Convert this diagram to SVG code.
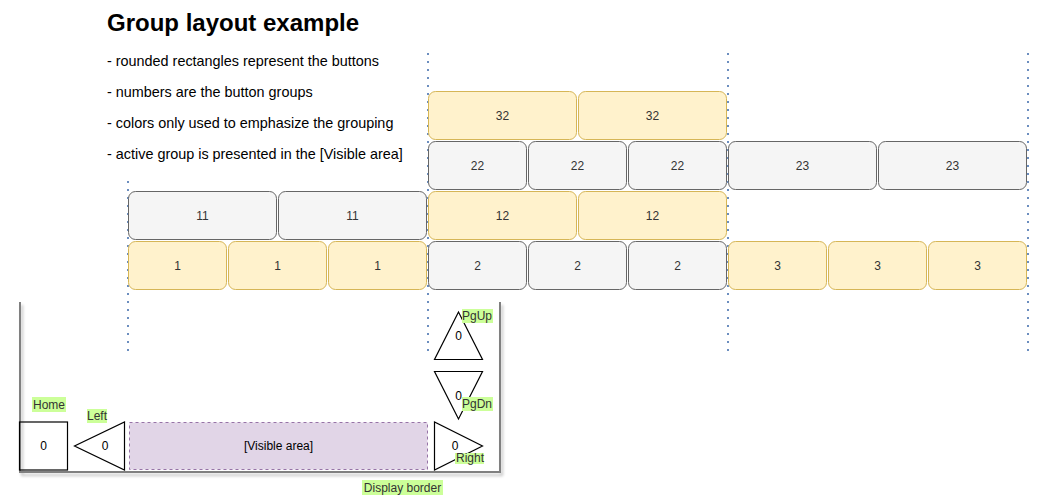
<svg xmlns="http://www.w3.org/2000/svg" width="1044" height="504" viewBox="0 0 1044 504">
<style>
text{font-family:"Liberation Sans",Arial,sans-serif;}
.btn text,.c{font-size:12px;text-anchor:middle;dominant-baseline:central;fill:#333333;}
.y{fill:#fff2cc;stroke:#d6b656;stroke-width:1;}
.g{fill:#f5f5f5;stroke:#666666;stroke-width:1;}
.dot{stroke:#6c8ebf;stroke-width:2;stroke-dasharray:2 6;fill:none;}
.sh{fill:none;stroke:#000;stroke-width:1.2;}
.lb{fill:#ccff99;}
.lt{font-size:12px;fill:#333333;text-anchor:middle;dominant-baseline:central;}
.note{font-size:14.4px;fill:#000;}
.k{font-size:12px;text-anchor:middle;dominant-baseline:central;fill:#000;}
</style>
<defs>
<filter id="shadow" x="-5%" y="-5%" width="115%" height="115%">
<feGaussianBlur in="SourceAlpha" stdDeviation="1.5"/>
<feOffset dx="2" dy="3" result="b"/>
<feComponentTransfer><feFuncA type="linear" slope="0.25"/></feComponentTransfer>
<feMerge><feMergeNode/><feMergeNode in="SourceGraphic"/></feMerge>
</filter>
</defs>
<rect width="1044" height="504" fill="#ffffff"/>
<g id="title">
<text x="107" y="31" font-size="24" font-weight="bold" fill="#000">Group layout example</text>
</g>
<g id="notes">
<text class="note" x="107" y="66">- rounded rectangles represent the buttons</text>
<text class="note" x="107" y="97">- numbers are the button groups</text>
<text class="note" x="107" y="128">- colors only used to emphasize the grouping</text>
<text class="note" x="107" y="159">- active group is presented in the [Visible area]</text>
</g>
<g id="guides">
<line class="dot" x1="128" y1="181" x2="128" y2="352"/>
<line class="dot" x1="428" y1="53" x2="428" y2="352"/>
<line class="dot" x1="728" y1="53" x2="728" y2="352"/>
<line class="dot" x1="1028" y1="53" x2="1028" y2="352"/>
</g>
<g id="row32" class="btn">
<g id="b32a"><rect class="y" x="428.5" y="91.5" width="148" height="48" rx="7"/><text x="502.5" y="115.5">32</text></g>
<g id="b32b"><rect class="y" x="578.5" y="91.5" width="148" height="48" rx="7"/><text x="652.5" y="115.5">32</text></g>
</g>
<g id="row2x" class="btn">
<g id="b22a"><rect class="g" x="428.5" y="141.5" width="98" height="48" rx="7"/><text x="477.5" y="165.5">22</text></g>
<g id="b22b"><rect class="g" x="528.5" y="141.5" width="98" height="48" rx="7"/><text x="577.5" y="165.5">22</text></g>
<g id="b22c"><rect class="g" x="628.5" y="141.5" width="98" height="48" rx="7"/><text x="677.5" y="165.5">22</text></g>
<g id="b23a"><rect class="g" x="728.5" y="141.5" width="148" height="48" rx="7"/><text x="802.5" y="165.5">23</text></g>
<g id="b23b"><rect class="g" x="878.5" y="141.5" width="148" height="48" rx="7"/><text x="952.5" y="165.5">23</text></g>
</g>
<g id="row1x" class="btn">
<g id="b11a"><rect class="g" x="128.5" y="191.5" width="148" height="48" rx="7"/><text x="202.5" y="215.5">11</text></g>
<g id="b11b"><rect class="g" x="278.5" y="191.5" width="148" height="48" rx="7"/><text x="352.5" y="215.5">11</text></g>
<g id="b12a"><rect class="y" x="428.5" y="191.5" width="148" height="48" rx="7"/><text x="502.5" y="215.5">12</text></g>
<g id="b12b"><rect class="y" x="578.5" y="191.5" width="148" height="48" rx="7"/><text x="652.5" y="215.5">12</text></g>
</g>
<g id="row0" class="btn">
<g id="b1a"><rect class="y" x="128.5" y="241.5" width="98" height="48" rx="7"/><text x="177.5" y="265.5">1</text></g>
<g id="b1b"><rect class="y" x="228.5" y="241.5" width="98" height="48" rx="7"/><text x="277.5" y="265.5">1</text></g>
<g id="b1c"><rect class="y" x="328.5" y="241.5" width="98" height="48" rx="7"/><text x="377.5" y="265.5">1</text></g>
<g id="b2a"><rect class="g" x="428.5" y="241.5" width="98" height="48" rx="7"/><text x="477.5" y="265.5">2</text></g>
<g id="b2b"><rect class="g" x="528.5" y="241.5" width="98" height="48" rx="7"/><text x="577.5" y="265.5">2</text></g>
<g id="b2c"><rect class="g" x="628.5" y="241.5" width="98" height="48" rx="7"/><text x="677.5" y="265.5">2</text></g>
<g id="b3a"><rect class="y" x="728.5" y="241.5" width="98" height="48" rx="7"/><text x="777.5" y="265.5">3</text></g>
<g id="b3b"><rect class="y" x="828.5" y="241.5" width="98" height="48" rx="7"/><text x="877.5" y="265.5">3</text></g>
<g id="b3c"><rect class="y" x="928.5" y="241.5" width="98" height="48" rx="7"/><text x="977.5" y="265.5">3</text></g>
</g>
<g id="display">
<path d="M20 302 V472 H500 V302" fill="none" stroke="#808080" stroke-width="2" filter="url(#shadow)"/>
<rect class="lb" x="362" y="480" width="81" height="15"/>
<text class="lt" x="402.5" y="487.5">Display border</text>
</g>
<g id="visible">
<rect x="129.5" y="422.5" width="298" height="47" fill="#e1d5e7" stroke="#9673a6" stroke-dasharray="3 3"/>
<text class="k" x="278.5" y="446">[Visible area]</text>
</g>
<g id="home">
<rect class="sh" x="19.5" y="422" width="48" height="48" fill="#fff"/>
<text class="k" x="43.5" y="446">0</text>
<rect class="lb" x="32" y="397" width="34" height="15"/>
<text class="lt" x="49" y="404.5">Home</text>
</g>
<g id="left">
<polygon class="sh" points="124.5,422 124.5,470 74.5,446" fill="#fff"/>
<text class="k" x="105" y="446">0</text>
<rect class="lb" x="87" y="409" width="20" height="14"/>
<text class="lt" x="97" y="416">Left</text>
</g>
<g id="right">
<polygon class="sh" points="434.5,422 434.5,470 482.5,446" fill="#fff"/>
<text class="k" x="455" y="446">0</text>
<rect class="lb" x="455" y="453" width="29" height="11"/>
<text class="lt" x="470" y="458">Right</text>
</g>
<g id="pgup">
<polygon class="sh" points="458.5,312 434.5,359.5 482.5,359.5" fill="#fff"/>
<text class="k" x="458.5" y="335.5">0</text>
<rect class="lb" x="462" y="309" width="31" height="14"/>
<text class="lt" x="477" y="316">PgUp</text>
</g>
<g id="pgdn">
<polygon class="sh" points="434.5,371.5 482.5,371.5 458.5,419" fill="#fff"/>
<text class="k" x="458.5" y="395.5">0</text>
<rect class="lb" x="462" y="397" width="31" height="14"/>
<text class="lt" x="477" y="404">PgDn</text>
</g>
</svg>
